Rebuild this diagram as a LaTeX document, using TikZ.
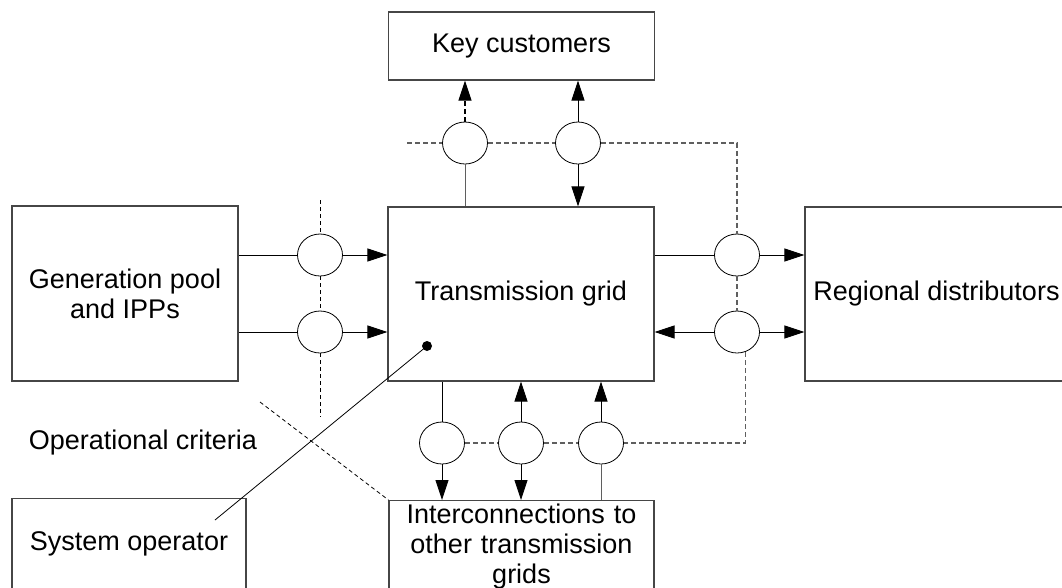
\documentclass[tikz,border=0pt]{standalone}
\usepackage{fontspec}
\setmainfont{Liberation Sans}
\usepackage{xcolor}
\usetikzlibrary{arrows.meta,positioning,shapes.geometric,calc}

\definecolor{boxgray}{RGB}{70,70,70}
\definecolor{dashgray}{RGB}{95,95,95}

\tikzset{
  block/.style={draw=boxgray, line width=1.1pt, align=center, inner sep=4pt,
    font=\fontsize{27}{30}\selectfont},
  junction/.style={draw, ellipse, line width=0.8pt, fill=white, inner sep=0pt,
    minimum width=45pt, minimum height=42pt},
  link/.style={line width=0.9pt},
  ctrl/.style={line width=1.1pt, dashgray, dash pattern=on 5pt off 3pt},
  thinctrl/.style={line width=0.8pt, dash pattern=on 4pt off 3pt},
}

\begin{document}
\begin{tikzpicture}[
  x=1pt, y=-1pt,
  >={Triangle[length=20pt,width=13pt]},
]
\useasboundingbox (0,0) rectangle (1062,587);
\clip (0,0) rectangle (1062,587);

% Boxes
\node[block, minimum width=266pt, minimum height=68pt] (keycust) at (521.5,46) {Key customers};
\node[block, minimum width=266pt, minimum height=174pt] (grid) at (521,294) {Transmission grid};
\node[block, minimum width=226pt, minimum height=175pt] (genpool) at (125,293.5) {Generation pool\\and IPPs};
\node[block, minimum width=263pt, minimum height=174pt] (regdist) at (936.5,294) {Regional distributors};
\node[block, anchor=north, text width=257pt, minimum width=265pt, inner ysep=3pt] (interconn) at (521.5,500)
  {Interconnections to\\other transmission\\grids\\[6pt]};
\node[block, minimum width=234pt, minimum height=90pt] (sysop) at (129,543.5) {System operator};
\node[font=\fontsize{27}{30}\selectfont] (opcrit) at (143,443) {Operational criteria};

% Junctions
\node[junction] (kc1) at (465,143) {};
\node[junction] (kc2) at (578,143) {};
\node[junction] (gp1) at (320,255) {};
\node[junction] (gp2) at (320,332) {};
\node[junction] (rd1) at (737,255) {};
\node[junction] (rd2) at (737,332) {};
\node[junction] (ic1) at (442,443) {};
\node[junction] (ic2) at (521,443) {};
\node[junction] (ic3) at (601,443) {};

% Free ends
\coordinate (kcstart) at (407,143);
\coordinate (kccorner) at (737,143);
\coordinate (gptop) at (320,200);
\coordinate (gpbot) at (320,417);
\coordinate (optop) at (260,402);
\coordinate (sotail) at (215,520);
\node[circle, fill, inner sep=0pt, minimum size=10pt] (sodot) at (427,346) {};

% Power flows
\draw[link] (genpool.east |- gp1) -- (gp1.west);
\draw[link, ->] (gp1.east) -- (grid.west |- gp1);
\draw[link] (genpool.east |- gp2) -- (gp2.west);
\draw[link, ->] (gp2.east) -- (grid.west |- gp2);

\draw[link] (grid.east |- rd1) -- (rd1.west);
\draw[link, ->] (rd1.east) -- (regdist.west |- rd1);
\draw[link, ->] (rd2.west) -- (grid.east |- rd2);
\draw[link, ->] (rd2.east) -- (regdist.west |- rd2);

\draw[link, dashgray] (kc1.south) -- (grid.north -| kc1);
\draw[ctrl, ->, >={Triangle[length=20pt,width=13pt,fill=black]}, black] (kc1.north) -- (keycust.south -| kc1);
\draw[link, ->] (kc2.south) -- (grid.north -| kc2);
\draw[link, ->] (kc2.north) -- (keycust.south -| kc2);

\draw[link] (ic1.north) -- (grid.south -| ic1);
\draw[link, ->] (ic1.south) -- (interconn.north -| ic1);
\draw[link, ->] (ic2.north) -- (grid.south -| ic2);
\draw[link, ->] (ic2.south) -- (interconn.north -| ic2);
\draw[link, ->] (ic3.north) -- (grid.south -| ic3);
\draw[link, dashgray] (ic3.south) -- (interconn.north -| ic3);

% Control lines
\draw[ctrl] (kcstart) -- (kc1.west);
\draw[ctrl] (kc1.east) -- (kc2.west);
\draw[ctrl] (kc2.east) -- (kccorner) -- (rd1.north);
\draw[ctrl] (rd1.south) -- (rd2.north);
\draw[ctrl] (rd2.-68) |- (ic3.east);
\draw[ctrl] (ic2.east) -- (ic3.west);
\draw[ctrl] (ic1.east) -- (ic2.west);

\draw[thinctrl] (gptop) -- (gp1.north);
\draw[thinctrl] (gp1.south) -- (gp2.north);
\draw[thinctrl] (gp2.south) -- (gpbot);
\draw[thinctrl] (optop) -- (interconn.north west);

% System operator link
\draw[line width=0.8pt] (sotail) -- (sodot);
\end{tikzpicture}
\end{document}
